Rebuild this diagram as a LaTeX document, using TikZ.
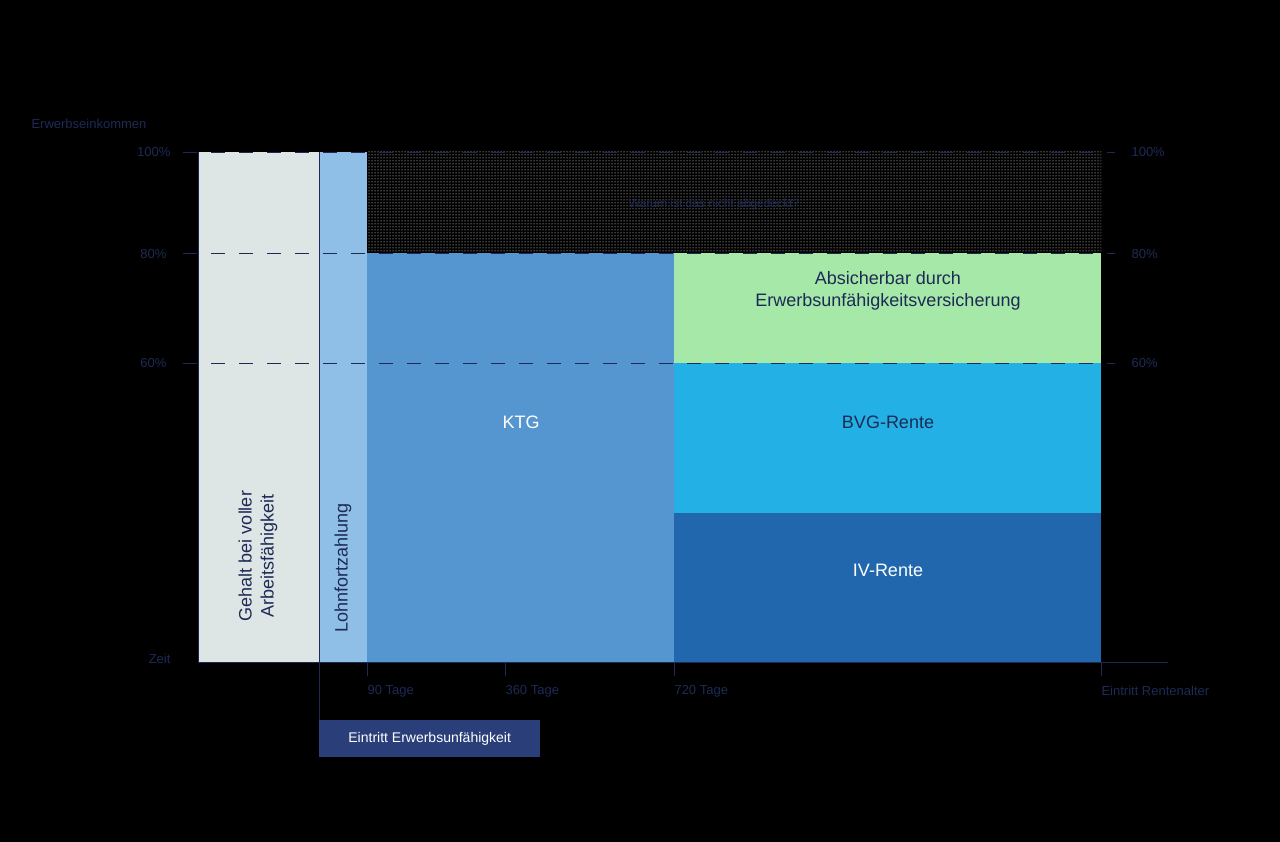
\documentclass[tikz,border=0pt]{standalone}
\usepackage{fontspec}
\setmainfont{Liberation Sans}
\usetikzlibrary{patterns}
\definecolor{navy}{HTML}{1E2A55}
\definecolor{paper}{HTML}{DDE5E5}
\definecolor{lohn}{HTML}{8FBFE6}
\definecolor{ktg}{HTML}{5595D0}
\definecolor{euv}{HTML}{A5E8A8}
\definecolor{bvg}{HTML}{22B0E5}
\definecolor{ivr}{HTML}{2167AE}
\definecolor{badge}{HTML}{2A3F7A}
\tikzset{
  axislabel/.style={text=navy, font=\fontsize{13}{15}\selectfont},
  blocklabel/.style={font=\fontsize{18}{22}\selectfont, align=center},
  gridline/.style={navy, dashed, dash pattern=on 14pt off 14pt, line width=0.8pt}
}
\begin{document}
\begin{tikzpicture}[x=1pt,y=-1pt]
\fill[black] (0,0) rectangle (1280,842);
\useasboundingbox (0,0) rectangle (1280,842);
% blocks
\fill[paper] (198,152) rectangle (319,662);
\fill[lohn] (319,152) rectangle (367,662);
\fill[pattern=dots, pattern color=white] (367,152) rectangle (1101,253);
\fill[ktg] (367,253) rectangle (674,662);
\fill[euv] (674,253) rectangle (1101,363);
\fill[bvg] (674,363) rectangle (1101,513);
\fill[ivr] (674,513) rectangle (1101,662);
% grid
\foreach \y in {152,253,363} \draw[gridline] (183,\y) -- (1115,\y);
\draw[navy, line width=0.8pt] (198,152) -- (198,662);
\draw[navy, line width=0.8pt] (198,662) -- (1168,662);
\draw[navy, line width=0.8pt] (319,152) -- (319,720);
\foreach \x in {367,505,674,1101} \draw[navy, line width=0.8pt] (\x,662) -- (\x,676);
% labels
\node[axislabel, anchor=west] (ylab) at (28,124) {Erwerbseinkommen};
\node[axislabel, anchor=east] (l100) at (174,152) {100\%};
\node[axislabel, anchor=east] (l80) at (170,254) {80\%};
\node[axislabel, anchor=east] (l60) at (170,363) {60\%};
\node[axislabel, anchor=west] (r100) at (1128,152) {100\%};
\node[axislabel, anchor=west] (r80) at (1128,254) {80\%};
\node[axislabel, anchor=west] (r60) at (1128,363) {60\%};
\node[axislabel, anchor=east] (zeit) at (174,659) {Zeit};
\node[axislabel, anchor=west] (t90) at (364,691) {90 Tage};
\node[axislabel, anchor=west] (t360) at (502,691) {360 Tage};
\node[axislabel, anchor=west] (t720) at (671,691) {720 Tage};
\node[axislabel, anchor=west] (trente) at (1098,691) {Eintritt Rentenalter};
\node[fill=badge, text=white, anchor=north west, minimum width=221pt, minimum height=37pt,
  font=\fontsize{14}{16}\selectfont] (eintritt) at (319,720) {Eintritt Erwerbsunfähigkeit};
\node[text=navy, font=\fontsize{12}{14}\selectfont] (frage) at (714,204) {Warum ist das nicht abgedeckt?};
\node[blocklabel, text=navy, rotate=90] (gehalt) at (258,556) {Gehalt bei voller\\Arbeitsfähigkeit};
\node[blocklabel, text=navy, rotate=90] (lohnf) at (343,568) {Lohnfortzahlung};
\node[blocklabel, text=white] (ktglab) at (521,422) {KTG};
\node[blocklabel, text=navy] (euvlab) at (888,291) {Absicherbar durch\\Erwerbsunfähigkeitsversicherung};
\node[blocklabel, text=navy] (bvglab) at (888,422) {BVG-Rente};
\node[blocklabel, text=white] (ivlab) at (888,570) {IV-Rente};
\end{tikzpicture}
\end{document}
